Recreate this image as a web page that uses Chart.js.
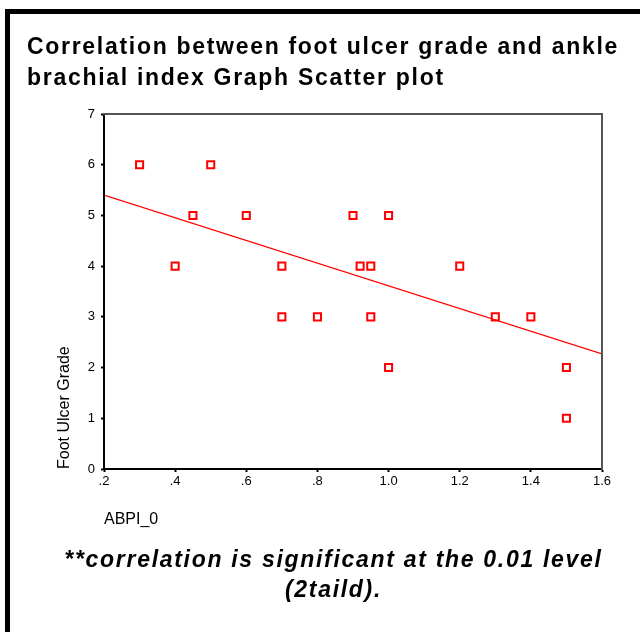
<!DOCTYPE html>
<html>
<head>
<meta charset="utf-8">
<script src="https://cdn.jsdelivr.net/npm/chart.js@4.4.1/dist/chart.umd.min.js"></script>
<style>
  html, body { margin: 0; padding: 0; background: #fff; }
  #wrap { position: relative; width: 640px; height: 632px; overflow: hidden; }
  #frame {
    position: absolute; left: 5px; top: 9px; width: 635px; height: 623px;
    box-sizing: border-box; border-left: 5px solid #000; border-top: 5px solid #000;
    pointer-events: none;
  }
  canvas { position: absolute; left: 0; top: 0; }
</style>
</head>
<body>
<div id="wrap">
  <canvas id="myChart" width="640" height="632"></canvas>
  <div id="frame"></div>
</div>
<script>
// values
const abpi  = [0.3, 0.5, 0.45, 0.6, 0.4, 0.7, 0.7, 0.8, 0.9, 1.0, 0.92, 0.95, 0.95, 1.0, 1.2, 1.3, 1.4, 1.5, 1.5];
const grade = [6, 6, 5, 5, 4, 4, 3, 3, 5, 5, 4, 4, 3, 2, 4, 3, 3, 2, 1];

// fit line end points
const fitX = [0.2, 1.6];
const fitY = [5.40, 2.27];

const xTickLabels = ['.2', '.4', '.6', '.8', '1.0', '1.2', '1.4', '1.6'];

const titleLines = ['Correlation between foot ulcer grade and ankle', 'brachial index Graph Scatter plot'];
const noteLines = ['**correlation is significant at the 0.01 level', '(2taild).'];

const FONT = "'Liberation Sans', Arial, Helvetica, sans-serif";
const RED = '#ff0000';

// title/subtitle get letter spacing, reset before datasets (scales are drawn after, z: 1)
const spacing = {
  id: 'spacing',
  beforeDraw(chart) { chart.ctx.letterSpacing = '1.7px'; },
  beforeDatasetsDraw(chart) { chart.ctx.letterSpacing = '0px'; }
};

const axisFont = {family: FONT, size: 13};

const config = {
  type: 'scatter',
  data: {
    datasets: [{
      type: 'line',
      data: fitX.map((x, i) => ({x: x, y: fitY[i]})),
      borderColor: RED,
      borderWidth: 1.2,
      pointRadius: 0,
      fill: false
    }, {
      data: abpi.map((x, i) => ({x: x, y: grade[i]})),
      pointStyle: 'rect',
      pointRadius: 5,
      pointBorderWidth: 2,
      pointBorderColor: RED,
      pointBackgroundColor: '#fff'
    }]
  },
  options: {
    responsive: false,
    animation: false,
    layout: {padding: {left: 27, right: 0, top: 16, bottom: 0}},
    plugins: {
      legend: {display: false},
      tooltip: {enabled: false},
      title: {
        display: true,
        text: titleLines,
        align: 'start',
        color: '#000',
        font: {family: FONT, size: 23, weight: 'bold', lineHeight: '31px'},
        padding: {top: 16, bottom: 0}
      },
      subtitle: {
        display: true,
        position: 'bottom',
        text: noteLines,
        align: 'center',
        color: '#000',
        font: {family: FONT, size: 23, weight: 'bold', style: 'italic', lineHeight: '30px'},
        padding: {top: 17, bottom: 26}
      }
    },
    scales: {
      x: {
        type: 'linear',
        min: 0.2, max: 1.6,
        ticks: {
          stepSize: 0.2,
          color: '#000',
          font: axisFont,
          padding: 2,
          maxRotation: 0,
          z: 1,
          callback: (v, i) => xTickLabels[i]
        },
        grid: {drawOnChartArea: false, tickLength: 3, tickWidth: 2, color: '#000', z: 1},
        border: {color: '#000', width: 2, z: 1},
        title: {
          display: true, text: 'ABPI_0', align: 'start', color: '#000',
          font: {family: FONT, size: 16}, padding: {top: 0, bottom: 0}
        },
        afterFit: (s) => { s.height = 60; }
      },
      y: {
        min: 0, max: 7,
        ticks: {stepSize: 1, color: '#000', font: axisFont, padding: 6, z: 1},
        grid: {drawOnChartArea: false, tickLength: 3, tickWidth: 2, color: '#000', z: 1},
        border: {color: '#000', width: 2, z: 1},
        title: {
          display: true, text: 'Foot Ulcer Grade', align: 'start', color: '#000',
          font: {family: FONT, size: 16}, padding: {top: 28, bottom: 0}
        },
        afterFit: (s) => { s.width = 77; }
      },
      x2: {
        type: 'linear', position: 'top',
        ticks: {display: false}, grid: {display: false},
        border: {color: '#555', width: 2, z: 1},
        afterFit: (s) => { s.height = 20; }
      },
      y2: {
        type: 'linear', position: 'right',
        ticks: {display: false}, grid: {display: false},
        border: {color: '#555', width: 2, z: 1},
        afterFit: (s) => { s.width = 38; }
      }
    }
  },
  plugins: [spacing]
};

var ctx = document.getElementById('myChart').getContext('2d');
var myChart = new Chart(ctx, config);
</script>
</body>
</html>
